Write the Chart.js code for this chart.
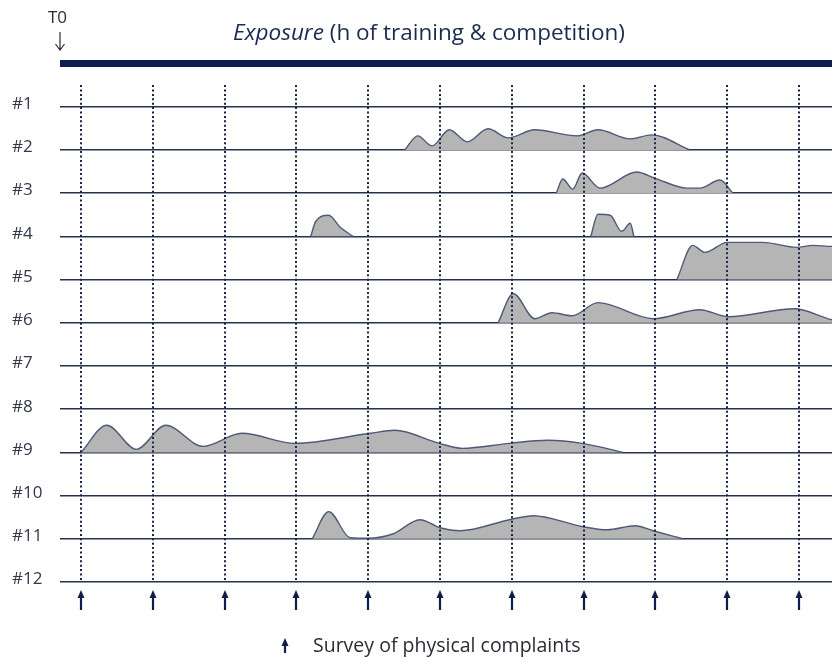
<!DOCTYPE html>
<html>
<head>
<meta charset="utf-8">
<script src="https://cdn.jsdelivr.net/npm/chart.js@4.4.1/dist/chart.umd.min.js"></script>
<style>
  html, body { margin: 0; padding: 0; background: #fff; }
  #wrap { width: 832px; height: 664px; }
</style>
</head>
<body>
<div id="wrap"><canvas id="exposureChart" width="832" height="664"></canvas></div>
<script>
// rows = participants, x = weeks since T0 (one survey each week)
const participants = ["#1", "#2", "#3", "#4", "#5", "#6", "#7", "#8", "#9", "#10", "#11", "#12"];
const surveyWeeks = [0, 1, 2, 3, 4, 5, 6, 7, 8, 9, 10];
const HOURS_PER_ROW = 43;

// exposure per participant: [week, hours]
const exposure2 = [[4.51, 0], [4.69, 14], [4.89, 4], [5.13, 20], [5.38, 8], [5.67, 21], [5.95, 12], [6.32, 20], [6.91, 14], [7.20, 20], [7.65, 11], [7.95, 15], [8.48, 0]];
const exposure3 = [[6.62, 0], [6.71, 14], [6.85, 4], [6.98, 20], [7.23, 5], [7.74, 21], [7.99, 15], [8.44, 5], [8.62, 5], [8.90, 13], [9.08, 0]];
const exposure4a = [[3.20, 0], [3.27, 15], [3.45, 21], [3.61, 9], [3.79, 0]];
const exposure4b = [[7.10, 0], [7.20, 22], [7.37, 21], [7.53, 5], [7.65, 13], [7.70, 0]];
const exposure5 = [[8.30, 0], [8.52, 34], [8.69, 27], [9.00, 37], [9.50, 37], [9.97, 32], [10.19, 34], [10.46, 33], [10.70, 33]];
const exposure6 = [[5.81, 0], [6.02, 29], [6.32, 4], [6.56, 10], [6.84, 7], [7.20, 20], [7.97, 4], [8.62, 13], [9.01, 6], [9.94, 14], [10.46, 3], [10.70, 1]];
const exposure9 = [[0, 0], [0.36, 27], [0.77, 3], [1.18, 27], [1.70, 6], [2.24, 19], [2.98, 9], [4.03, 19], [4.37, 22], [4.99, 9], [5.31, 4], [5.97, 9], [6.50, 12], [6.98, 9], [7.55, 0]];
const exposure11 = [[3.22, 0], [3.45, 27], [3.75, 1], [4.00, 0.5], [4.35, 5], [4.72, 19], [5.00, 11], [5.28, 8], [5.97, 19], [6.30, 23], [6.99, 12], [7.33, 9], [7.72, 13], [7.97, 8], [8.38, 0]];

const exposureRows = [[2, exposure2], [3, exposure3], [4, exposure4a], [4, exposure4b], [5, exposure5], [6, exposure6], [9, exposure9], [11, exposure11]];

const navy = "#0f1f4b";
const rowLine = "#26314f";
const font = "'Open Sans'";

const datasets = exposureRows.map(([row, pts]) => ({
  data: pts.map(p => ({ x: p[0], y: row - p[1] / HOURS_PER_ROW })),
  fill: { value: row },
  backgroundColor: "#b5b5b5",
  borderColor: "#4f5a78",
  borderWidth: 1.4,
  pointRadius: 0,
  cubicInterpolationMode: "monotone"
}));

const overlay = {
  id: "overlay",
  afterDatasetsDraw(chart) {
    const ctx = chart.ctx;
    const xs = chart.scales.x, ys = chart.scales.y;
    ctx.save();
    ctx.strokeStyle = "#1b2647";
    ctx.lineWidth = 2;
    ctx.setLineDash([2, 2.4]);
    surveyWeeks.forEach(w => {
      const x = Math.round(xs.getPixelForValue(w));
      ctx.beginPath();
      ctx.moveTo(x, ys.getPixelForValue(0.5));
      ctx.lineTo(x, ys.getPixelForValue(12));
      ctx.stroke();
    });
    ctx.restore();
  },
  afterDraw(chart) {
    const ctx = chart.ctx;
    const xs = chart.scales.x;
    const bottom = chart.chartArea.bottom;
    ctx.save();
    ctx.fillStyle = navy;
    ctx.strokeStyle = navy;

    const upArrow = (x, top, len) => {
      ctx.lineWidth = 2.2;
      ctx.beginPath();
      ctx.moveTo(x, top + 5);
      ctx.lineTo(x, top + len);
      ctx.stroke();
      ctx.beginPath();
      ctx.moveTo(x, top);
      ctx.lineTo(x - 3.5, top + 8);
      ctx.lineTo(x + 3.5, top + 8);
      ctx.closePath();
      ctx.fill();
    };
    surveyWeeks.forEach(w => upArrow(Math.round(xs.getPixelForValue(w)), bottom + 8, 20));

    // legend
    upArrow(285, 638, 15);
    ctx.fillStyle = "#2b2b35";
    ctx.font = "19.5px " + font;
    ctx.textBaseline = "alphabetic";
    ctx.fillText("Survey of physical complaints", 313, 652);

    // title
    const it = "Exposure";
    const rest = " (h of training & competition)";
    ctx.fillStyle = "#1d2a50";
    ctx.font = "italic 22.5px " + font;
    const w1 = ctx.measureText(it).width;
    ctx.font = "22.5px " + font;
    const w2 = ctx.measureText(rest).width;
    const start = 429 - (w1 + w2) / 2;
    ctx.font = "italic 22.5px " + font;
    ctx.fillText(it, start, 40);
    ctx.font = "22.5px " + font;
    ctx.fillText(rest, start + w1, 40);

    // T0 marker
    ctx.fillStyle = "#2b2b35";
    ctx.font = "17px " + font;
    ctx.textAlign = "center";
    ctx.fillText("T0", 57.5, 23);
    ctx.strokeStyle = "#2b2b35";
    ctx.lineWidth = 1.2;
    ctx.beginPath();
    ctx.moveTo(60, 32);
    ctx.lineTo(60, 50);
    ctx.moveTo(55.5, 44);
    ctx.lineTo(60, 50);
    ctx.lineTo(64.5, 44);
    ctx.stroke();
    ctx.restore();
  }
};

new Chart(document.getElementById("exposureChart"), {
  type: "line",
  data: { datasets: datasets },
  options: {
    responsive: false,
    animation: false,
    layout: { padding: { left: 12, top: 63.5, bottom: 82, right: 0 } },
    plugins: { legend: { display: false }, tooltip: { enabled: false } },
    scales: {
      x: { type: "linear", min: -0.2925, max: 10.46, display: false },
      y: {
        type: "linear",
        reverse: true,
        min: 0,
        max: 12,
        z: 1,
        afterFit: s => { s.width = 48; },
        border: { display: false },
        grid: {
          drawTicks: false,
          color: c => c.tick.value === 0 ? navy : rowLine,
          lineWidth: c => c.tick.value === 0 ? 7 : 1.6
        },
        ticks: {
          stepSize: 1,
          crossAlign: "far",
          padding: 0,
          labelOffset: -2.5,
          color: "#33384a",
          font: { family: font, size: 17 },
          callback: v => v === 0 ? "" : participants[v - 1]
        }
      }
    }
  },
  plugins: [overlay]
});
</script>
</body>
</html>
